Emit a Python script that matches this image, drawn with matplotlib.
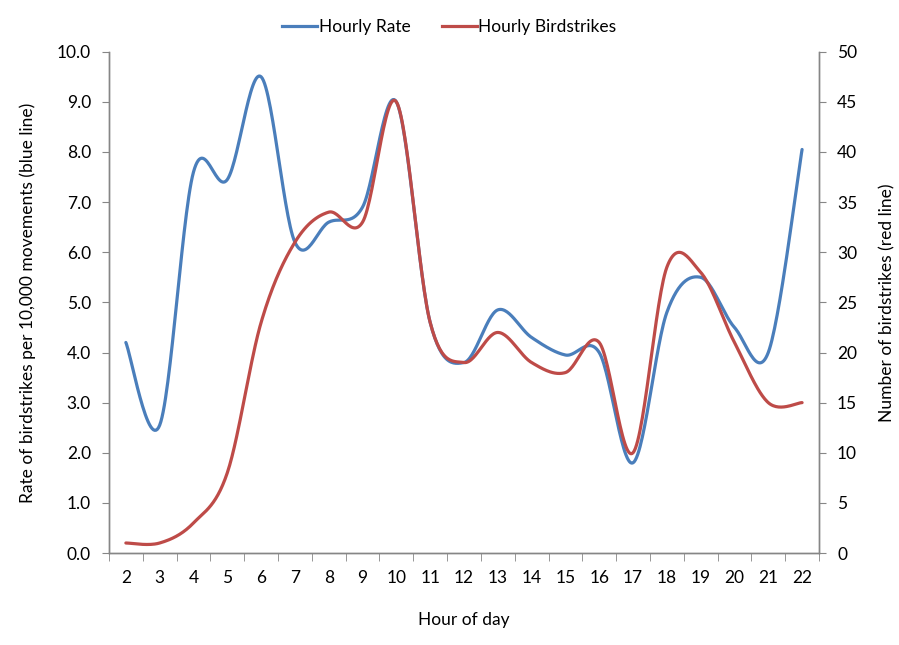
import numpy as np
import matplotlib
matplotlib.use('Agg')
import matplotlib.pyplot as plt
from matplotlib.lines import Line2D

plt.rcParams['font.family'] = ['Lato', 'DejaVu Sans']

hours = [2, 3, 4, 5, 6, 7, 8, 9, 10, 11, 12, 13, 14, 15, 16, 17, 18, 19, 20, 21, 22]
hourly_rate = [4.2, 2.55, 7.6, 7.45, 9.5, 6.2, 6.6, 6.9, 9.0, 4.6, 3.8, 4.85, 4.3,
               3.95, 4.0, 1.8, 4.8, 5.5, 4.5, 4.0, 8.05]
hourly_strikes = [1, 1, 3, 8, 23, 31, 34, 33, 45, 23, 19, 22, 19, 18, 21, 10, 28.5, 28,
                  21, 15, 15]

blue = '#4A7EBB'
red = '#BE4B48'
grey = '#868686'


def smooth(x, y, n=30):
    # excel-style smoothed line (catmull-rom bezier through the points)
    x = np.asarray(x, float)
    y = np.asarray(y, float)
    px = np.concatenate([[x[0]], x, [x[-1]]])
    py = np.concatenate([[y[0]], y, [y[-1]]])
    xs, ys = [], []
    t = np.linspace(0, 1, n)
    for i in range(1, len(px) - 2):
        p0 = np.array([px[i], py[i]])
        p3 = np.array([px[i + 1], py[i + 1]])
        c1 = p0 + (np.array([px[i + 1], py[i + 1]]) - np.array([px[i - 1], py[i - 1]])) / 6
        c2 = p3 - (np.array([px[i + 2], py[i + 2]]) - np.array([px[i], py[i]])) / 6
        b = ((1 - t) ** 3)[:, None] * p0 + (3 * (1 - t) ** 2 * t)[:, None] * c1 \
            + (3 * (1 - t) * t ** 2)[:, None] * c2 + (t ** 3)[:, None] * p3
        xs.extend(b[:, 0])
        ys.extend(b[:, 1])
    return np.array(xs), np.array(ys)


fig = plt.figure(figsize=(8.99, 6.45), dpi=100)
ax = fig.add_axes([0.1212, 0.1426, 0.7898, 0.7772])
ax2 = ax.twinx()

pos = np.arange(len(hours))
bx, by = smooth(pos, hourly_rate)
rx, ry = smooth(pos, hourly_strikes)
ax.plot(bx, by, color=blue, lw=2.3, solid_capstyle='round', zorder=3)
ax2.plot(rx, ry, color=red, lw=2.3, solid_capstyle='round', zorder=3)

ax.set_xlim(-0.5, len(hours) - 0.5)
ax.set_ylim(0, 10)
ax2.set_ylim(0, 50)
ax.set_yticks(np.arange(0, 10.01, 1.0))
ax.set_yticklabels(['%.1f' % v for v in np.arange(0, 10.01, 1.0)])
ax2.set_yticks(np.arange(0, 51, 5))
ax.set_xticks(pos)
ax.set_xticklabels([str(h) for h in hours])
ax.set_xticks(np.arange(-0.5, len(hours), 1), minor=True)
ax.tick_params(axis='x', which='major', length=0, pad=12, labelsize=12.5)
ax.tick_params(axis='x', which='minor', length=6, color=grey, direction='out')
ax.tick_params(axis='y', length=5, color=grey, labelsize=12.5, pad=8)
ax2.tick_params(axis='y', length=5, color=grey, labelsize=12.5, pad=8)

for a in (ax, ax2):
    a.spines['top'].set_visible(False)
    for s in ('left', 'right', 'bottom'):
        a.spines[s].set_color(grey)
        a.spines[s].set_linewidth(1.0)

ax.set_xlabel('Hour of day', fontsize=12.5, labelpad=19)
ax.set_ylabel('Rate of birdstrikes per 10,000 movements (blue line)', fontsize=12.5, labelpad=15)
ax2.set_ylabel('Number of birdstrikes (red line)', fontsize=12.5, labelpad=16)

handles = [Line2D([], [], color=blue, lw=2.3), Line2D([], [], color=red, lw=2.3)]
fig.legend(handles, ['Hourly Rate', 'Hourly Birdstrikes'], loc='center',
           bbox_to_anchor=(0.5, 0.958), ncol=2, frameon=False, fontsize=12.5,
           handlelength=2.0, handletextpad=0.1, columnspacing=1.8)

fig.savefig('out.png', dpi=100)
